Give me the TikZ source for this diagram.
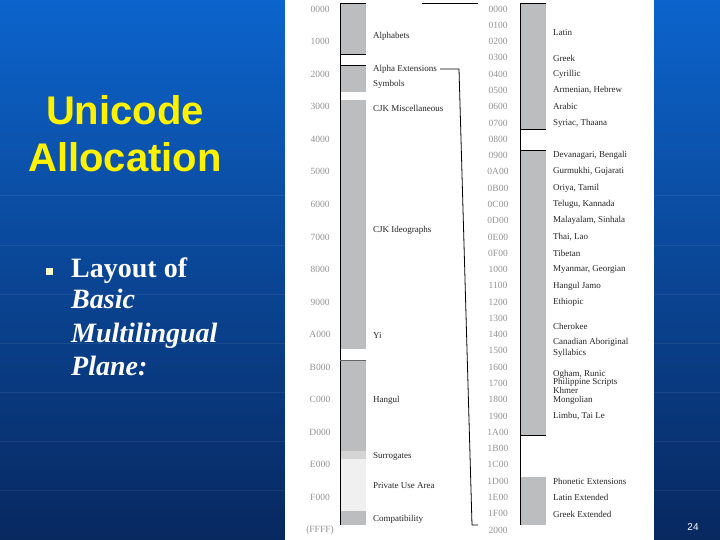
\documentclass[tikz,border=0pt]{standalone}
\usepackage{fontspec}
\setmainfont{Liberation Serif}
\newfontfamily\arialfont{Liberation Sans}
\definecolor{bgtop}{RGB}{12,100,204}
\definecolor{bgbot}{RGB}{8,40,96}
\definecolor{bargray}{RGB}{188,189,191}
\definecolor{surrgray}{RGB}{212,212,212}
\definecolor{pvtgray}{RGB}{240,240,240}
\definecolor{bullety}{RGB}{255,255,200}
\begin{document}
\begin{tikzpicture}[x=1pt,y=-1pt,
  lbl/.style={anchor=west, inner sep=0pt, font=\fontsize{9}{10}\selectfont, text=black!85},
  axl/.style={anchor=center, inner sep=0pt, font=\fontsize{9.5}{10}\selectfont, text=black!42},
  bar/.style={fill=bargray},
  edge/.style={draw=black, line width=0.8pt},
  bodytext/.style={anchor=base west, inner sep=0pt, text=white, font=\bfseries\fontsize{28}{32}\selectfont},
  titletext/.style={inner sep=0pt, text=yellow, font=\arialfont\bfseries\fontsize{40}{46}\selectfont},
  grid/.style={draw=white, opacity=0.07, line width=1pt}
  ]
\useasboundingbox (0,0) rectangle (720,540);
% background
\shade[top color=bgtop, bottom color=bgbot] (0,0) rectangle (720,540);
\foreach \yy in {196,245,294,343,392,441,490}{
  \draw[grid] (0,\yy) -- (285,\yy);
  \draw[grid] (654,\yy) -- (720,\yy);
}
% title and bullet text
\node[titletext] (t1) at (125,110) {Unicode};
\node[titletext] (t2) at (125,157) {Allocation};
\node[fill=bullety, inner sep=0pt, minimum size=7pt] (bul) at (49,271) {};
\node[bodytext] (b1) at (71,277) {Layout of};
\node[bodytext] (b2) at (71,308) {\itshape Basic};
\node[bodytext] (b3) at (71,342) {\itshape Multilingual};
\node[bodytext] (b4) at (71,375) {\itshape Plane:};
\node[inner sep=0pt, text=white, font=\arialfont\fontsize{10}{12}\selectfont] (pg) at (693,527) {24};
% white panel
\fill[white] (285,0) rectangle (654,540);
% left bar
\fill[bar] (340,3) rectangle (366,54);
\fill[bar] (340,65) rectangle (366,92);
\fill[bar] (340,100) rectangle (366,349);
\fill[bar] (340,360) rectangle (366,451);
\fill[surrgray] (340,451) rectangle (366,459);
\fill[pvtgray] (340,459) rectangle (366,511);
\fill[bar] (340,511) rectangle (366,525);
\draw[edge] (340,3) -- (340,525);
\draw[edge] (340,3) -- (366,3);
\draw[edge] (340,54) -- (366,54);
\draw[edge] (340,65) -- (366,65);
\draw[draw=black!60, line width=0.6pt] (340,360) -- (366,360);
% right bar
\fill[bar] (520,3) rectangle (546,129);
\fill[bar] (520,150) rectangle (546,435);
\fill[bar] (520,477) rectangle (546,525);
\draw[edge] (520,3) -- (520,525);
\draw[edge] (520,3) -- (546,3);
\draw[edge] (520,129) -- (546,129);
\draw[edge] (520,150) -- (546,150);
\draw[edge] (520,435) -- (546,435);
% left axis labels
\foreach \lab [count=\i from 0] in {0000,1000,2000,3000,4000,5000,6000,7000,8000,9000,A000,B000,C000,D000,E000,F000,(FFFF)}{
  \node[axl] (la\i) at (320,{9+\i*32.56}) {\lab};
}
% right axis labels
\foreach \lab [count=\i from 0] in {0000,0100,0200,0300,0400,0500,0600,0700,0800,0900,0A00,0B00,0C00,0D00,0E00,0F00,1000,1100,1200,1300,1400,1500,1600,1700,1800,1900,1A00,1B00,1C00,1D00,1E00,1F00,2000}{
  \node[axl] (ra\i) at (498,{9+\i*16.28}) {\lab};
}
% left block labels
\foreach \txt/\yy [count=\i] in {Alphabets/36, Alpha Extensions/69, Symbols/84, CJK Miscellaneous/108, CJK Ideographs/230, Yi/336, Hangul/400, Surrogates/456, Private Use Area/486, Compatibility/519}{
  \node[lbl] (ll\i) at (373,\yy) {\txt};
}
% right block labels
\foreach \txt/\yy [count=\i] in {Latin/33, Greek/58, Cyrillic/74, {Armenian, Hebrew}/90, Arabic/106, {Syriac, Thaana}/123, {Devanagari, Bengali}/155, {Gurmukhi, Gujarati}/171, {Oriya, Tamil}/188, {Telugu, Kannada}/204, {Malayalam, Sinhala}/220, {Thai, Lao}/237, Tibetan/253, {Myanmar, Georgian}/269, Hangul Jamo/286, Ethiopic/302, Cherokee/326, Canadian Aboriginal/342, Syllabics/353, {Ogham, Runic}/374, Philippine Scripts/382, Khmer/390, Mongolian/400, {Limbu, Tai Le}/416, Phonetic Extensions/481, Latin Extended/497, Greek Extended/514}{
  \node[lbl] (rl\i) at (553,\yy) {\txt};
}
% zoom bracket
\coordinate (ztl) at (422,3);
\coordinate (ztr) at (478,3);
\coordinate (zk) at (459,69);
\coordinate (zb) at (472,525);
\coordinate (zbr) at (478,525);
\draw[edge] (ztl) -- (ztr);
\draw[edge] ([xshift=3pt]ll2.east) -- (zk) -- (zb) -- (zbr);
\end{tikzpicture}
\end{document}
